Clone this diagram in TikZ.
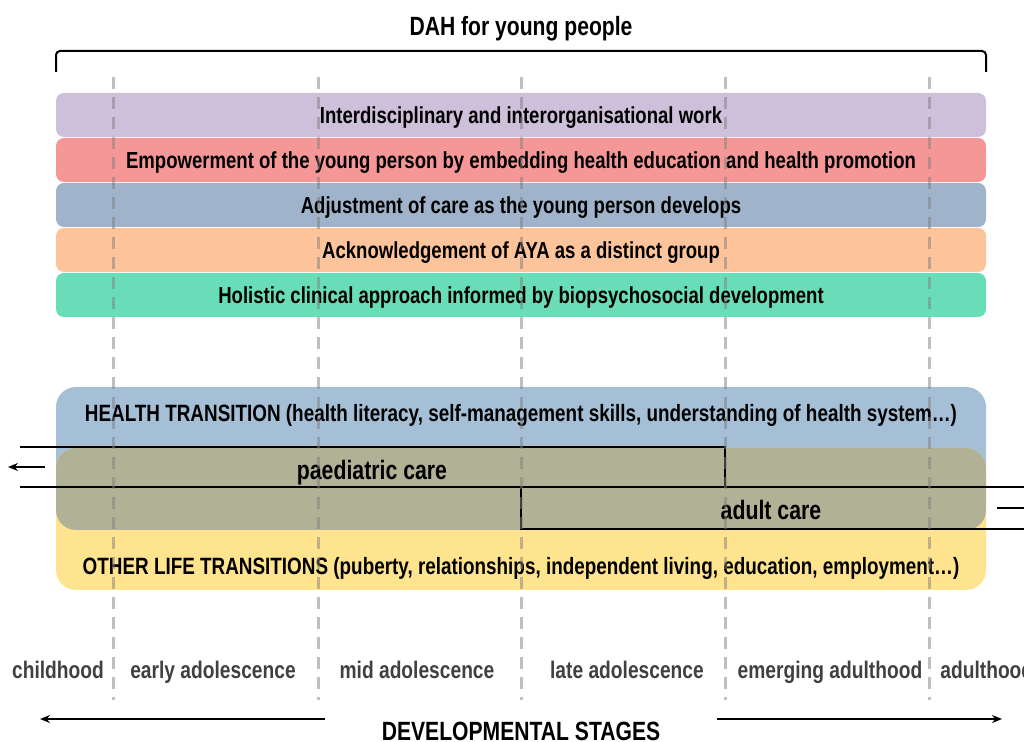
\documentclass[tikz,border=0pt]{standalone}
\usepackage{fontspec}
\setmainfont{Liberation Sans}[FakeStretch=0.8]
\definecolor{dahStage}{HTML}{404040}
\definecolor{dahPurple}{HTML}{CEBFDA}
\definecolor{dahRed}{HTML}{F69797}
\definecolor{dahBlue}{HTML}{9FB4CA}
\definecolor{dahOrange}{HTML}{FDC49B}
\definecolor{dahGreen}{HTML}{68DDB7}
\definecolor{dahHealth}{HTML}{A5C0D6}
\definecolor{dahLife}{HTML}{FFE490}
\definecolor{dahOlive}{HTML}{B1B196}
\usetikzlibrary{arrows.meta}
\newcommand{\dahfont}[1]{\bfseries\fontsize{#1}{#1}\selectfont}

\begin{document}
\begin{tikzpicture}[x=0.5pt, y=-0.5pt,
  lbl/.style={inner sep=0pt, text depth=0pt},
  band/.style={rounded corners=4pt, fill=#1, text=black, inner sep=0pt, text depth=0pt,
    minimum width=465pt, minimum height=22pt, font=\dahfont{11.6}},
  stage/.style={lbl, text=dahStage, font=\dahfont{12}},
  grid/.style={draw=gray, opacity=0.5, line width=1.5pt, dash pattern=on 6pt off 4pt},
  care/.style={line width=1pt},
  arr/.style={-{Stealth[length=5pt,width=4pt]}, line width=0.8pt}
]
  \useasboundingbox (0,0) rectangle (1024,742);

  % title and brace
  \node[lbl, font=\dahfont{13.2}] (title) at (521,26) {DAH for young people};
  \draw[line width=1pt, rounded corners=2pt] (56,72) -- (56,51) -- (986,51) -- (986,72);

  % principles
  \node[band=dahPurple] (inter) at (521,115) {Interdisciplinary and interorganisational work};
  \node[band=dahRed] (empower) at (521,160) {Empowerment of the young person by embedding health education and health promotion};
  \node[band=dahBlue] (adjust) at (521,205) {Adjustment of care as the young person develops};
  \node[band=dahOrange] (aya) at (521,250) {Acknowledgement of AYA as a distinct group};
  \node[band=dahGreen] (holistic) at (521,295) {Holistic clinical approach informed by biopsychosocial development};

  % transitions
  \fill[dahHealth, rounded corners=10pt] (56,387) rectangle (986,530);
  \fill[dahLife, rounded corners=10pt] (56,448) rectangle (986,590);
  \begin{scope}
    \clip[rounded corners=10pt] (56,387) rectangle (986,530);
    \fill[dahOlive, rounded corners=10pt] (56,448) rectangle (986,590);
  \end{scope}
  \node[lbl, font=\dahfont{11.8}] (health) at (521,413)
    {HEALTH TRANSITION (health literacy, self-management skills, understanding of health system…)};
  \node[lbl, font=\dahfont{11.8}] (life) at (521,566)
    {OTHER LIFE TRANSITIONS (puberty, relationships, independent living, education, employment…)};

  % care settings
  \draw[care] (20,447) -- (725,447) -- (725,487);
  \draw[care] (20,487) -- (1030,487);
  \draw[care] (521,487) -- (521,529) -- (1030,529);
  \node[lbl, font=\dahfont{13.3}] (paed) at (372,470) {paediatric care};
  \node[lbl, font=\dahfont{13.3}] (adult) at (771,510) {adult care};
  \coordinate (paedEnd) at (45,467);
  \coordinate (paedTip) at (8,467);
  \draw[arr] (paedEnd) -- (paedTip);
  \coordinate (adultEnd) at (997,508);
  \coordinate (adultTip) at (1040,508);
  \draw[arr] (adultEnd) -- (adultTip);

  % stages
  \node[stage] (child) at (58,670) {childhood};
  \node[stage] (early) at (213,670) {early adolescence};
  \node[stage] (mid) at (417,670) {mid adolescence};
  \node[stage] (late) at (627,670) {late adolescence};
  \node[stage] (emerging) at (830,670) {emerging adulthood};
  \node[stage, anchor=west] (adulthood) at (940,670) {adulthood};

  \foreach \gx in {113,318,521,725,929}
    \draw[grid] (\gx,77) -- (\gx,700);

  \node[lbl, font=\dahfont{13.2}] (dev) at (521,731) {DEVELOPMENTAL STAGES};
  \coordinate (devL) at (325,719);
  \coordinate (devR) at (717,719);
  \draw[arr] (devL) -- (40,719);
  \draw[arr] (devR) -- (1002,719);
\end{tikzpicture}
\end{document}
